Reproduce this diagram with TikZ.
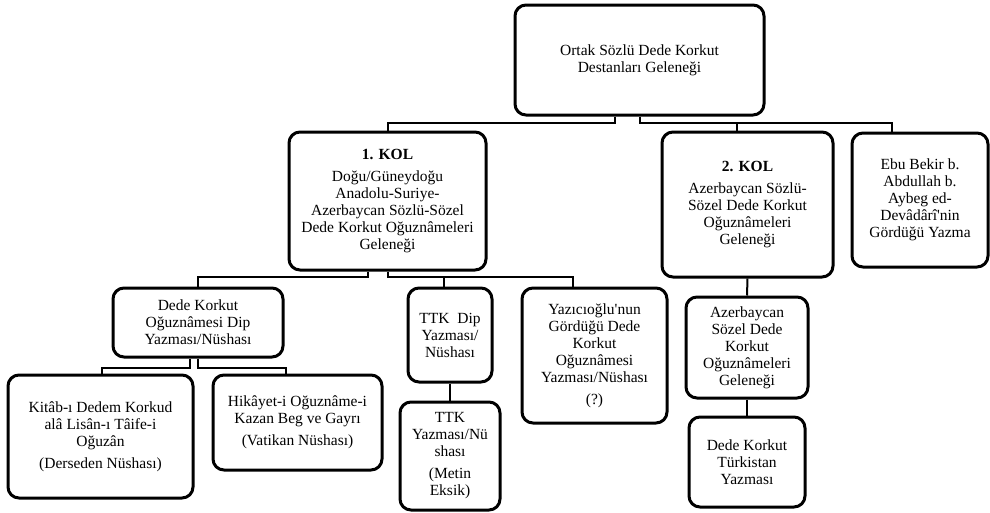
\documentclass[tikz,border=0pt]{standalone}
\usepackage{fontspec}
\setmainfont{Liberation Serif}[Ligatures=TeXOff]
\usetikzlibrary{calc}
\tikzset{
  box/.style={draw=black, line width=3pt, rounded corners=11pt, align=center, inner sep=0pt,
    font=\fontsize{15.5pt}{17pt}\selectfont},
  link/.style={draw=black, line width=2pt}
}
\begin{document}
\begin{tikzpicture}[x=1pt,y=-1pt]
\useasboundingbox[fill=white] (0,0) rectangle (990,512);
% boxes
\node[box, minimum width=249pt, minimum height=110pt] (root) at (639.5,60) {Ortak Sözlü Dede Korkut\\Destanları Geleneği};
\node[box, minimum width=197pt, minimum height=138pt] (kol1) at (387.5,201) {\textbf{1. KOL}\\[5pt]Doğu/Güneydoğu\\Anadolu-Suriye-\\Azerbaycan Sözlü-Sözel\\Dede Korkut Oğuznâmeleri\\Geleneği};
\node[box, minimum width=171pt, minimum height=145pt] (kol2) at (747.5,204.5) {\textbf{2. KOL}\\[5pt]Azerbaycan Sözlü-\\Sözel Dede Korkut\\Oğuznâmeleri\\Geleneği};
\node[box, minimum width=136pt, minimum height=134pt] (ebu) at (920,200) {Ebu Bekir b.\\Abdullah b.\\Aybeg ed-\\Devâdârî'nin\\Gördüğü Yazma};
\node[box, minimum width=170pt, minimum height=69pt] (dip) at (198,322.5) {Dede Korkut\\Oğuznâmesi Dip\\Yazması/Nüshası};
\node[box, minimum width=84pt, minimum height=94pt] (ttkdip) at (450,335) {TTK~ Dip\\Yazması/\\Nüshası};
\node[box, minimum width=145pt, minimum height=135pt] (yaz) at (594.5,355.5) {Yazıcıoğlu'nun\\Gördüğü Dede\\Korkut\\Oğuznâmesi\\Yazması/Nüshası\\[5pt](?)};
\node[box, minimum width=185pt, minimum height=123pt] (kitab) at (100.5,436.5) {Kitâb-ı Dedem Korkud\\alâ Lisân-ı Tâife-i\\Oğuzân\\[5pt](Derseden Nüshası)};
\node[box, minimum width=169pt, minimum height=95pt] (hikayet) at (297.5,422.5) {Hikâyet-i Oğuznâme-i\\Kazan Beg ve Gayrı\\[5pt](Vatikan Nüshası)};
\node[box, minimum width=100pt, minimum height=108pt] (ttky) at (450,456) {TTK\\Yazması/Nü\\shası\\[5pt](Metin\\Eksik)};
\node[box, minimum width=122pt, minimum height=101pt] (azs) at (747,347.5) {Azerbaycan\\Sözel Dede\\Korkut\\Oğuznâmeleri\\Geleneği};
\node[box, minimum width=116pt, minimum height=90pt] (turk) at (747,462) {Dede Korkut\\Türkistan\\Yazması};
% connectors
\draw[link] (root.south -| 615,0) -- (615,123) -| (kol1.north);
\draw[link] (root.south) -- (639.5,123) -| (ebu.north -| 892,0);
\draw[link] (737,123) -- (kol2.north -| 737,0);
\draw[link] (kol1.south -| 368,0) -- (368,277) -| (dip.north);
\draw[link] (kol1.south) -- (387.5,277) -| (yaz.north -| 573,0);
\draw[link] (444,277) -- (ttkdip.north -| 444,0);
\draw[link] (dip.south -| 190,0) -- (190,368) -| (kitab.north -| 102,0);
\draw[link] (dip.south) -- (198,368) -| (hikayet.north -| 286,0);
\draw[link] (ttkdip.south) -- (ttky.north);
\draw[link] (kol2.south) -- (azs.north);
\draw[link] (azs.south) -- (turk.north);
\end{tikzpicture}
\end{document}
